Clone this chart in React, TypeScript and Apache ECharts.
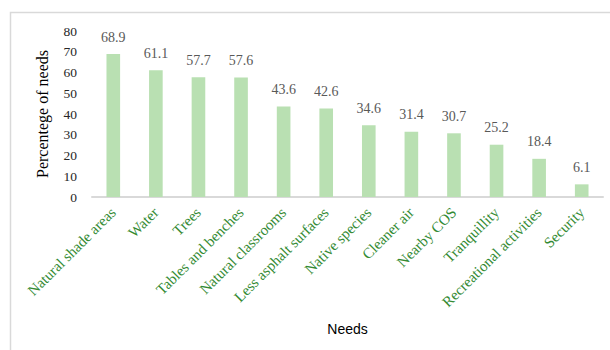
import React, { useEffect, useRef } from "react";
import * as echarts from "echarts";

const categories = [
  "Natural shade areas",
  "Water",
  "Trees",
  "Tables and benches",
  "Natural classrooms",
  "Less asphalt surfaces",
  "Native species",
  "Cleaner air",
  "Nearby COS",
  "Tranquillity",
  "Recreational activities",
  "Security",
];
const values = [68.9, 61.1, 57.7, 57.6, 43.6, 42.6, 34.6, 31.4, 30.7, 25.2, 18.4, 6.1];
const yTitle = "Percentege of needs";
const xTitle = "Needs";

const SERIF = "'Liberation Serif', 'DejaVu Serif', serif";

export default function App() {
  const ref = useRef<HTMLDivElement>(null);
  useEffect(() => {
    const chart = echarts.init(ref.current!, null, { renderer: "svg" });
    chart.setOption({
      animation: false,
      backgroundColor: "#ffffff",
      graphic: [
        {
          type: "rect",
          shape: { x: 10.5, y: 12.5, width: 700, height: 400 },
          style: { fill: "none", stroke: "#d9d9d9", lineWidth: 1.5 },
          silent: true,
        },
      ],
      grid: { left: 92, right: 7, top: 31, bottom: 153, containLabel: false },
      xAxis: {
        type: "category",
        data: categories,
        axisLine: { lineStyle: { color: "#d9d9d9", width: 2 } },
        axisTick: { show: false },
        axisLabel: {
          rotate: 45,
          interval: 0,
          margin: 13,
          color: "#338a33",
          fontFamily: SERIF,
          fontSize: 15,
        },
        name: xTitle,
        nameLocation: "middle",
        nameGap: 125,
        nameTextStyle: { color: "#000000", fontFamily: "'Liberation Sans', Arial, sans-serif", fontSize: 14 },
      },
      yAxis: {
        type: "value",
        min: 0,
        max: 80,
        interval: 10,
        splitLine: { show: false },
        axisLine: { show: false },
        axisTick: { show: false },
        axisLabel: { color: "#262626", fontFamily: SERIF, fontSize: 13.5, margin: 15 },
        name: yTitle,
        nameLocation: "middle",
        nameGap: 42,
        nameRotate: 90,
        nameTextStyle: { color: "#000000", fontFamily: SERIF, fontSize: 16 },
      },
      series: [
        {
          type: "bar",
          data: values,
          barWidth: "32%",
          itemStyle: { color: "#b9e0b2" },
          label: {
            show: true,
            position: "top",
            distance: 10,
            color: "#595959",
            fontFamily: SERIF,
            fontSize: 14,
          },
        },
      ],
    });
    return () => chart.dispose();
  }, []);
  return (
    <div
      ref={ref}
      style={{ position: "absolute", left: 0, top: 0, width: 610, height: 350 }}
    />
  );
}
